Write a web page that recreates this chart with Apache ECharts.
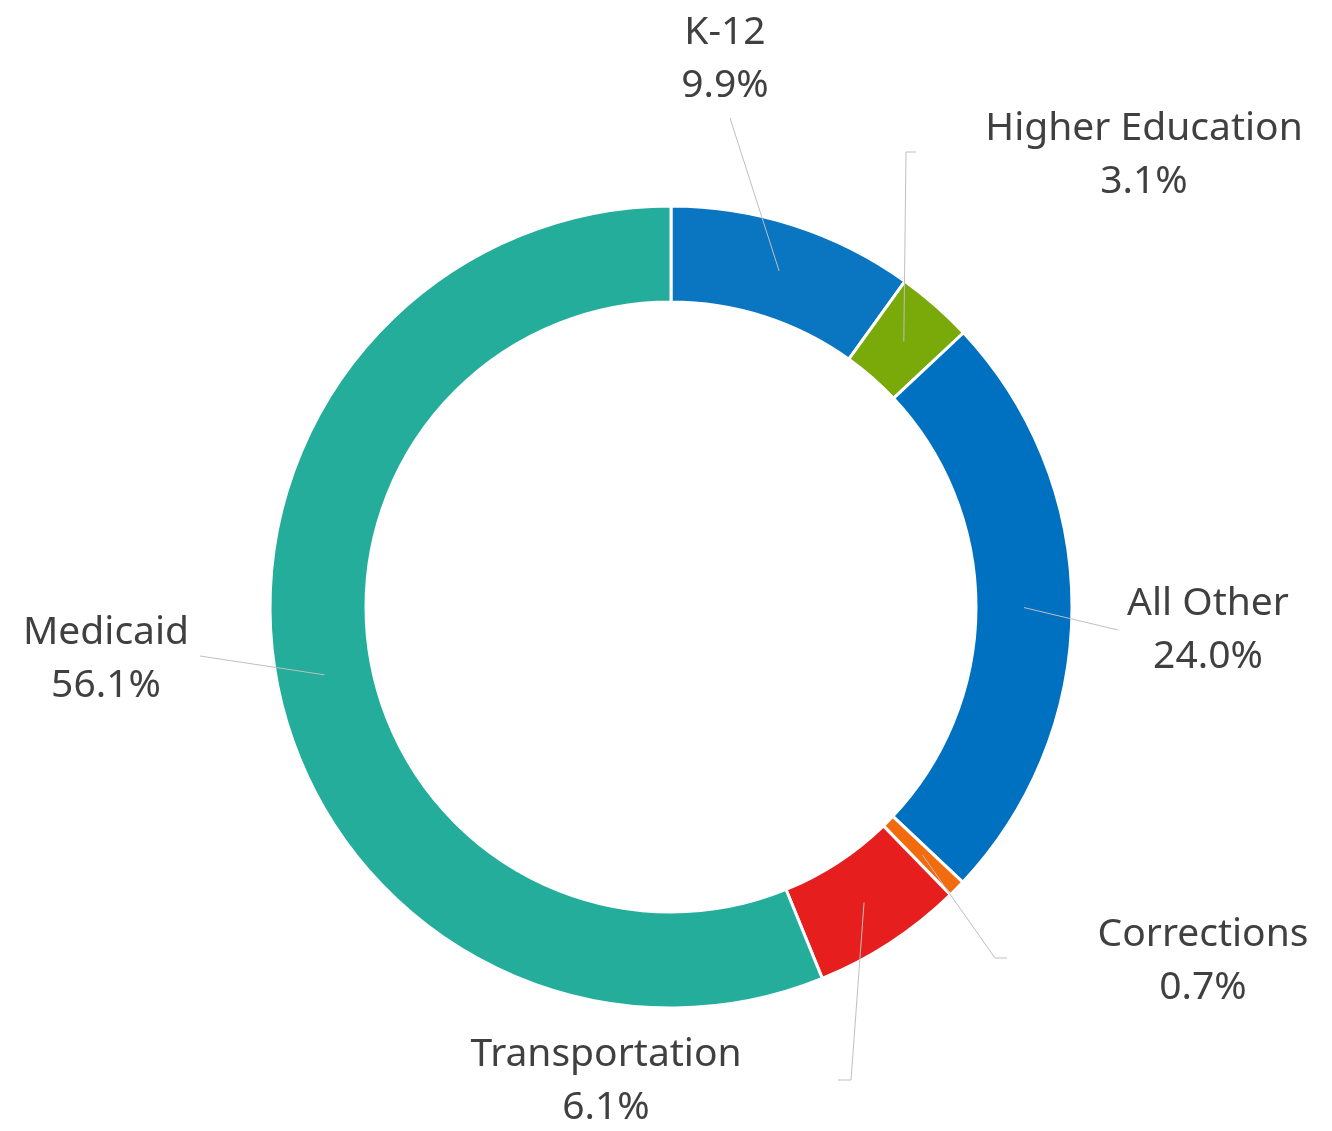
<!DOCTYPE html>
<html>
<head>
<meta charset="utf-8">
<script src="https://cdn.jsdelivr.net/npm/echarts@6/dist/echarts.min.js"></script>
<style>
  html, body { margin: 0; padding: 0; background: #fff; }
  #chart { width: 1332px; height: 1131px; }
</style>
</head>
<body>
<div id="chart"></div>
<script>
// share of spending, clockwise from 12 o'clock
var categories = ["K-12", "Higher Education", "All Other", "Corrections", "Transportation", "Medicaid"];
var shares = [9.9, 3.1, 24.0, 0.7, 6.1, 56.1];
var colors = ["#0a76c1", "#7aa90a", "#0070c0", "#f26b0f", "#e61e1e", "#24ad9a"];

var center = [671, 607];
var radius = [305, 401];

// where each label sits and where its leader line ends
var labelPos = [[725, 59], [1144, 155], [1208, 630], [1203, 961], [606, 1081], [106, 659]];
var lineEnds = [
  [[730, 118]],
  [[906, 152], [916, 152]],
  [[1118, 630]],
  [[995, 958], [1007, 958]],
  [[851, 1080], [838, 1080]],
  [[200, 656]]
];

var total = shares.reduce(function(a, b) { return a + b; }, 0);

// leader lines start in the middle of the ring, at the slice's mid angle
function lineStart(i) {
  var before = 0;
  for (var k = 0; k < i; k++) before += shares[k];
  var ang = (before + shares[i] / 2) / total * Math.PI * 2;
  var r = (radius[0] + radius[1]) / 2;
  return [center[0] + r * Math.sin(ang), center[1] - r * Math.cos(ang)];
}

var chart = echarts.init(document.getElementById("chart"));

var sliceData = categories.map(function(c, i) {
  return { name: c, value: shares[i], itemStyle: { color: colors[i] } };
});

var option = {
  backgroundColor: "#fff",
  animation: false,
  series: [
    {
      // the ring itself
      type: "pie",
      z: 2,
      center: center,
      radius: radius,
      startAngle: 90,
      clockwise: true,
      silent: true,
      itemStyle: {
        borderColor: "#fff",
        borderWidth: 3
      },
      label: { show: false },
      labelLine: { show: false },
      data: sliceData
    },
    {
      // same slices, invisible, only to carry labels + leader lines on top
      type: "pie",
      z: 5,
      center: center,
      radius: radius,
      startAngle: 90,
      clockwise: true,
      avoidLabelOverlap: false,
      itemStyle: { color: "rgba(0,0,0,0)", borderWidth: 0 },
      label: {
        show: true,
        fontFamily: "Noto Sans",
        fontSize: 39,
        lineHeight: 53,
        color: "#404040",
        align: "center",
        formatter: function(p) {
          return p.name + "\n" + p.value.toFixed(1) + "%";
        }
      },
      labelLine: {
        show: true,
        lineStyle: { color: "#bfbfbf", width: 1 }
      },
      labelLayout: function(params) {
        var i = params.dataIndex;
        return {
          x: labelPos[i][0],
          y: labelPos[i][1],
          align: "center",
          verticalAlign: "middle",
          labelLinePoints: [lineStart(i)].concat(lineEnds[i])
        };
      },
      data: categories.map(function(c, i) {
        return { name: c, value: shares[i] };
      })
    }
  ]
};

chart.setOption(option);
window.addEventListener("resize", function() {
  chart.resize();
});
</script>
</body>
</html>
